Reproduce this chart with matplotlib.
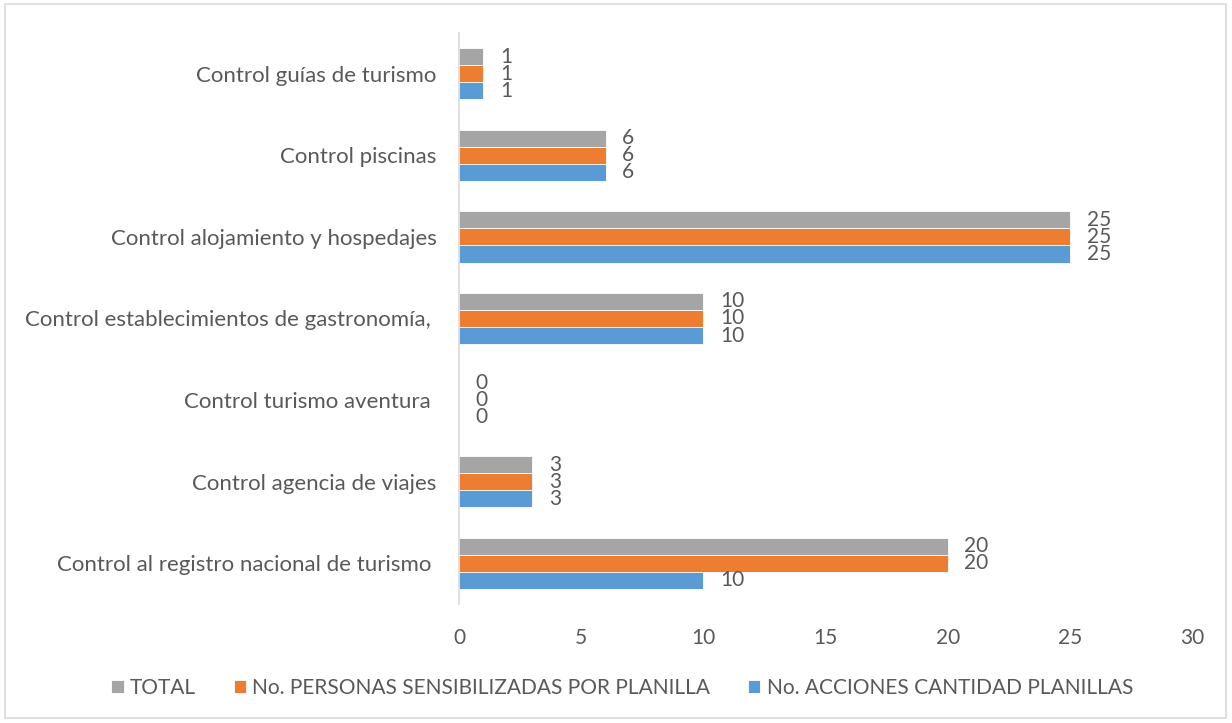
import matplotlib.pyplot as plt
import numpy as np

categorias = ["Control al registro nacional de turismo ",
              "Control agencia de viajes",
              "Control turismo aventura ",
              "Control establecimientos de gastronomía, ",
              "Control alojamiento y hospedajes",
              "Control piscinas",
              "Control guías de turismo"]
acciones = [10, 3, 0, 10, 25, 6, 1]
personas = [20, 3, 0, 10, 25, 6, 1]
total = [20, 3, 0, 10, 25, 6, 1]

series = [("No. ACCIONES CANTIDAD PLANILLAS", acciones, "#5B9BD5"),
          ("No. PERSONAS SENSIBILIZADAS POR PLANILLA", personas, "#ED7D31"),
          ("TOTAL", total, "#A5A5A5")]

plt.rcParams['font.family'] = ['Lato', 'DejaVu Sans']
txt = "#595959"
fs = 15

fig = plt.figure(figsize=(12.32, 7.23), dpi=100)
ax = fig.add_axes([459 / 1232, 1 - 604 / 723, (1192 - 459) / 1232, (604 - 33) / 723])

y = np.arange(len(categorias))
h = 0.21
for i, (name, vals, col) in enumerate(series):
    pos = y + (i - 1) * h
    ax.barh(pos, vals, height=h, color=col, label=name,
            edgecolor="white", linewidth=0.6)
    for p, v in zip(pos, vals):
        ax.annotate(str(v), (v, p), xytext=(12, 0), textcoords="offset points",
                    va="center", ha="left", fontsize=fs, color=txt)

ax.set_xlim(0, 30)
ax.set_ylim(-0.5, len(categorias) - 0.5)
ax.set_xticks(range(0, 31, 5))
ax.set_yticks(y)
ax.set_yticklabels(categorias)
ax.tick_params(axis="both", length=0, labelsize=fs, labelcolor=txt)
ax.tick_params(axis="y", pad=16, labelsize=16)
ax.tick_params(axis="x", pad=17)
for s in ["top", "right", "bottom"]:
    ax.spines[s].set_visible(False)
ax.spines["left"].set_color("#D9D9D9")
ax.spines["left"].set_linewidth(1.2)

handles, labels = ax.get_legend_handles_labels()
leg = fig.legend(handles[::-1], labels[::-1], loc="center", ncol=3,
                 bbox_to_anchor=(0.505, 1 - 688 / 723), frameon=False,
                 fontsize=fs, handlelength=0.6, handleheight=0.6,
                 handletextpad=0.3, columnspacing=1.8)
for t in leg.get_texts():
    t.set_color(txt)

fig.patches.append(plt.Rectangle((5 / 1232, 5 / 723), 1221 / 1232, 714 / 723,
                                 transform=fig.transFigure, fill=False,
                                 edgecolor="#D9D9D9", linewidth=1.2))

fig.savefig("out.png", dpi=100)
